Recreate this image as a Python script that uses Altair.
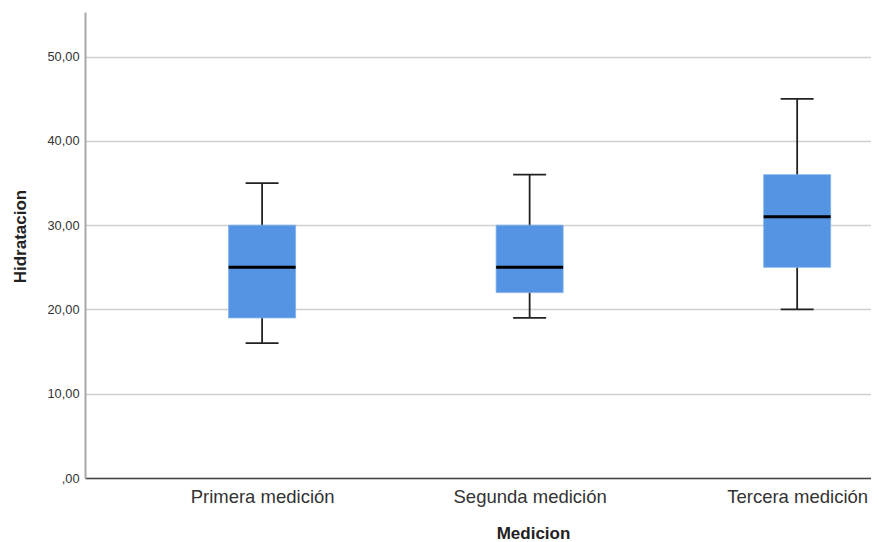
import altair as alt
import pandas as pd

categories = ["Primera medición", "Segunda medición", "Tercera medición"]
positions = [1, 2, 3]
mins = [16, 19, 20]
q1s = [19, 22, 25]
medians = [25, 25, 31]
q3s = [30, 30, 36]
maxs = [35, 36, 45]
y_ticks = [0, 10, 20, 30, 40, 50]

df = pd.DataFrame({
    "cat": categories, "pos": positions, "lo": mins, "q1": q1s,
    "med": medians, "q3": q3s, "hi": maxs,
})

label_expr = "[" + ",".join("'" + c + "'" for c in categories) + "][datum.value - 1]"

xscale = alt.Scale(domain=[0.338, 3.276], nice=False, zero=False, padding=0)
yscale = alt.Scale(domain=[0, 55.3], nice=False, zero=True, padding=0)

x_axis = alt.Axis(
    values=positions, labelExpr=label_expr, title="Medicion", grid=False,
    ticks=False, domainColor="#444444", domainWidth=1.5,
    labelFont="Liberation Sans", labelFontSize=18.5, labelColor="#333333",
    labelPadding=9, titleFont="Liberation Sans", titleFontSize=17,
    titleFontWeight="bold", titleColor="#222222",
    titleX=448, titleY=64, titleBaseline="bottom", titleAnchor="start", titleAlign="center",
)
y_axis = alt.Axis(
    values=y_ticks,
    labelExpr="datum.value == 0 ? ',00' : replace(format(datum.value, '.2f'), '.', ',')",
    title="Hidratacion", grid=True, gridColor="#d0d0d0", gridWidth=1.5,
    ticks=False, domainColor="#a8a8a8", domainWidth=2,
    labelFont="Liberation Sans", labelFontSize=12.8, labelColor="#333333",
    labelPadding=6, titleFont="Liberation Sans", titleFontSize=17,
    titleFontWeight="bold", titleColor="#222222",
    titleX=-65, titleY=224, titleAngle=-90, titleAlign="center", titleBaseline="middle",
)

base = alt.Chart(df)

whisker = base.mark_rule(color="#222222", strokeWidth=1.8).encode(
    x=alt.X("pos:Q", scale=xscale, axis=x_axis),
    y=alt.Y("lo:Q", scale=yscale, axis=y_axis),
    y2="hi:Q",
)
box = base.mark_bar(size=67, color="#5594E2", stroke="#7fb0ec", strokeWidth=0.8).encode(
    x=alt.X("pos:Q", scale=xscale),
    y=alt.Y("q1:Q", scale=yscale),
    y2="q3:Q",
)
median = base.mark_tick(orient="horizontal", size=67, thickness=3, color="#000000", opacity=1).encode(
    x=alt.X("pos:Q", scale=xscale),
    y=alt.Y("med:Q", scale=yscale),
)
cap_lo = base.mark_tick(orient="horizontal", size=33, thickness=1.8, color="#222222", opacity=1).encode(
    x=alt.X("pos:Q", scale=xscale),
    y=alt.Y("lo:Q", scale=yscale),
)
cap_hi = base.mark_tick(orient="horizontal", size=33, thickness=1.8, color="#222222", opacity=1).encode(
    x=alt.X("pos:Q", scale=xscale),
    y=alt.Y("hi:Q", scale=yscale),
)

chart = alt.layer(whisker, box, median, cap_lo, cap_hi).properties(
    width=786, height=466,
    autosize=alt.AutoSizeParams(type="none"),
    padding={"left": 77, "top": 4, "right": 0, "bottom": 64},
).configure(background="white").configure_view(stroke=None)

chart.save("out.html", embed_options={"renderer": "svg", "actions": False})
